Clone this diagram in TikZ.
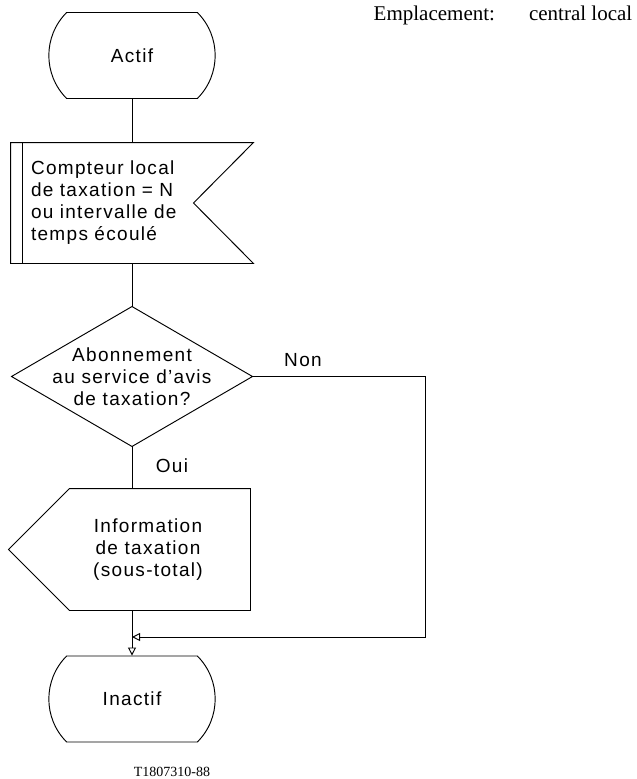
\documentclass[tikz,border=0pt]{standalone}
\usepackage{fontspec}
\setmainfont{Liberation Serif}
\newfontfamily\flowfont[LetterSpace=7]{Liberation Sans}
\usetikzlibrary{shapes.misc,arrows.meta,calc}

\begin{document}
\begin{tikzpicture}[x=1pt,y=-1pt,line width=0.95pt,
    every node/.style={font=\flowfont\fontsize{19}{22}\selectfont},
    term/.style={rounded rectangle, rounded rectangle arc length=90, draw,
        minimum width=173pt, minimum height=86pt},
    arr/.style={-{Triangle[open,length=8pt,width=8pt]}}]
	\useasboundingbox (0,0) rectangle (637,779);
	\node[term] (actif) at (132,55.5) {Actif};
	\node[text width=202pt, inner xsep=20pt, minimum height=120pt, align=left] (compteur) at (132,203)
		{Compteur local\\de taxation = N\\ou intervalle de\\temps écoulé};
	\node[minimum width=240pt, minimum height=139pt, inner sep=0pt, align=center] (abo) at (132,376.5)
		{Abonnement\\au service d’avis\\de taxation?};
	\node[minimum width=204pt, minimum height=121pt, align=center] (info) at (148,549.5)
		{Information\\de taxation\\(sous-total)};
	\node[term] (inactif) at (132,699) {Inactif};
	\coordinate (merge) at (132,637);
	\coordinate (nonright) at (425,637);
	% shapes
	\draw (compteur.north west) -- (compteur.north east) -- ($(compteur.east)+(-60,0)$)
		-- (compteur.south east) -- (compteur.south west) -- cycle;
	\draw ($(compteur.north west)+(12,0)$) -- ($(compteur.south west)+(12,0)$);
	\draw (abo.north) -- (abo.east) -- (abo.south) -- (abo.west) -- cycle;
	\draw ($(info.north west)+(24,0)$) -- (info.north east) -- (info.south east)
		-- ($(info.south west)+(24,0)$) -- ($(info.west)+(-37,0)$) -- cycle;
	% connectors
	\draw (actif.south) -- (compteur.north);
	\draw (compteur.south) -- (abo.north);
	\draw (abo.south) -- (abo.south |- info.north);
	\draw (abo.south |- info.south) -- (merge);
	\draw[arr] (merge) -- (inactif.north);
	\draw[arr] (abo.east) -| (nonright) -- (merge);
	\node (non) at (303,360) {Non};
	\node (oui) at (172,466) {Oui};
	\node[font=\fontsize{21}{25}\selectfont, anchor=east] (lieu) at (636,15) {Emplacement:\hspace{34pt}central local};
	\node[font=\fontsize{14}{16}\selectfont] (ref) at (172,772) {T1807310-88};
\end{tikzpicture}
\end{document}
